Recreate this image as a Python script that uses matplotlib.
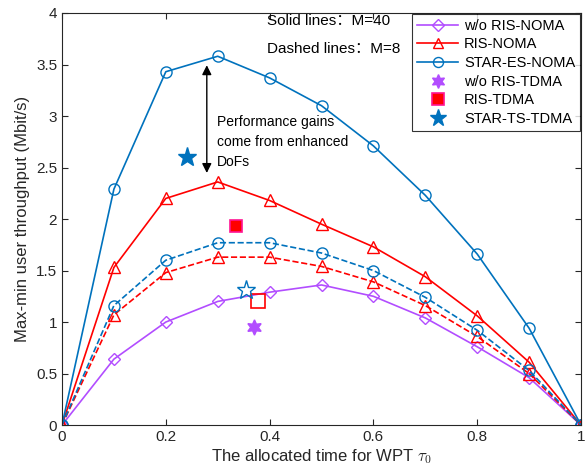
import matplotlib.pyplot as plt
import numpy as np

plt.rcParams['font.family'] = ['Liberation Sans', 'Noto Sans CJK SC', 'DejaVu Sans']
plt.rcParams['mathtext.fontset'] = 'cm'

tau = [0, 0.1, 0.2, 0.3, 0.4, 0.5, 0.6, 0.7, 0.8, 0.9, 1.0]

# M = 40 (solid)
wo_ris_noma = [0, 0.64, 1.00, 1.20, 1.29, 1.36, 1.25, 1.04, 0.76, 0.46, 0]
ris_noma_40 = [0, 1.53, 2.20, 2.36, 2.18, 1.95, 1.73, 1.44, 1.06, 0.61, 0]
star_noma_40 = [0, 2.29, 3.43, 3.58, 3.37, 3.10, 2.71, 2.23, 1.66, 0.94, 0]

# M = 8 (dashed)
ris_noma_8 = [0, 1.07, 1.48, 1.63, 1.63, 1.54, 1.39, 1.16, 0.86, 0.50, 0]
star_noma_8 = [0, 1.16, 1.60, 1.77, 1.77, 1.67, 1.50, 1.24, 0.92, 0.53, 0]

# TDMA single points (tau, rate)
wo_ris_tdma = (0.37, 0.95)
ris_tdma_40 = (0.335, 1.93)
star_tdma_40 = (0.24, 2.60)
ris_tdma_8 = (0.378, 1.20)
star_tdma_8 = (0.355, 1.31)

purple = '#B24DFF'
red = '#FF0000'
blue = '#0072BD'

fig = plt.figure(figsize=(5.86, 4.76), dpi=100)
ax = fig.add_axes([0.1058, 0.107, 0.8857, 0.8657])

lw = 1.2
ms = 8
ax.plot(tau, wo_ris_noma, '-', color=purple, marker='D', ms=6.5, mfc='none', lw=lw, label='w/o RIS-NOMA')
ax.plot(tau, ris_noma_40, '-', color=red, marker='^', ms=ms, mfc='none', lw=lw, label='RIS-NOMA')
ax.plot(tau, star_noma_40, '-', color=blue, marker='o', ms=ms, mfc='none', lw=lw, label='STAR-ES-NOMA')
ax.plot(tau, ris_noma_8, '--', color=red, marker='^', ms=ms, mfc='none', lw=lw)
ax.plot(tau, star_noma_8, '--', color=blue, marker='o', ms=ms, mfc='none', lw=lw)

hexagram = (6, 1, 0)
ax.plot(*wo_ris_tdma, ls='none', marker=hexagram, ms=11, color=purple, label='w/o RIS-TDMA')
ax.plot(*ris_tdma_40, ls='none', marker='s', ms=9, mfc=red, mec='#FF1493', mew=1.2, label='RIS-TDMA')
ax.plot(*star_tdma_40, ls='none', marker='*', ms=14, color=blue, label='STAR-TS-TDMA')
ax.plot(*ris_tdma_8, ls='none', marker='s', ms=10, mfc='none', mec=red, mew=1.2)
ax.plot(*star_tdma_8, ls='none', marker='*', ms=14, mfc='none', mec=blue, mew=1.0)

ax.annotate('', xy=(0.279, 2.42), xytext=(0.279, 3.52),
            arrowprops=dict(arrowstyle='<|-|>', color='black', lw=1.0, mutation_scale=14))
ax.text(0.298, 2.75, 'Performance gains\ncome from enhanced\nDoFs', fontsize=10,
        ha='left', va='center', linespacing=1.55)
ax.text(0.395, 3.92, 'Solid lines：M=40', fontsize=11, ha='left', va='center')
ax.text(0.395, 3.65, 'Dashed lines：M=8', fontsize=11, ha='left', va='center')

ax.set_xlim(0, 1)
ax.set_ylim(0, 4)
ax.set_xticks(np.arange(0, 1.01, 0.2))
ax.set_xticklabels(['0', '0.2', '0.4', '0.6', '0.8', '1'])
ax.set_yticks(np.arange(0, 4.01, 0.5))
ax.set_yticklabels(['0', '0.5', '1', '1.5', '2', '2.5', '3', '3.5', '4'])
ax.tick_params(direction='in', top=True, right=True, labelsize=11, colors='#262626', length=4)
for s in ax.spines.values():
    s.set_color('#262626')
    s.set_linewidth(0.8)

ax.set_xlabel(r'The allocated time for WPT $\tau_0$', fontsize=12, color='#262626', labelpad=2)
ax.set_ylabel('Max-min user throughput (Mbit/s)', fontsize=12, color='#262626', labelpad=4)

leg = ax.legend(loc='upper right', fontsize=10.5, frameon=True, fancybox=False,
                edgecolor='black', borderaxespad=0.05, handlelength=2.8, markerscale=0.9,
                borderpad=0.35, labelspacing=0.32, handletextpad=0.4)
leg.get_frame().set_linewidth(0.8)

fig.savefig('out.png', dpi=100)
